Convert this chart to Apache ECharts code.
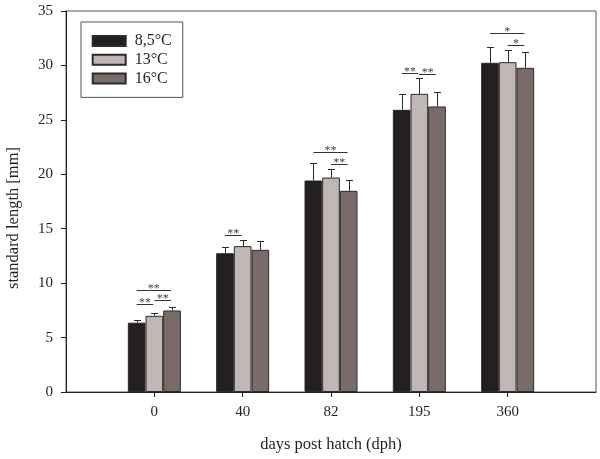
<!DOCTYPE html>
<html><head><meta charset="utf-8">
<script src="https://cdn.jsdelivr.net/npm/echarts@6/dist/echarts.min.js"></script>
<style>html,body{margin:0;padding:0;background:#fff}#c{width:600px;height:459px}</style>
</head><body><div id="c"></div>
<script>
// ---- data ----
const categories = ['0', '40', '82', '195', '360'];
const seriesNames = ['8,5°C', '13°C', '16°C'];
const mean85 = [6.37, 12.75, 19.43, 25.92, 30.24];
const mean13 = [7.0, 13.4, 19.7, 27.39, 30.3];
const mean16 = [7.49, 13.06, 18.48, 26.23, 29.78];
const sd85 = [0.25, 0.6, 1.65, 1.48, 1.43];
const sd13 = [0.24, 0.55, 0.74, 1.44, 1.1];
const sd16 = [0.35, 0.77, 0.98, 1.31, 1.47];
const yTicks = [0, 5, 10, 15, 20, 25, 30, 35];
// significance brackets: group, from bar, to bar, height, label
const sigGroup = [0, 0, 0, 1, 2, 2, 3, 3, 4, 4];
const sigFrom  = [0, 0, 1, 0, 0, 1, 0, 1, 0, 1];
const sigTo    = [2, 1, 2, 1, 2, 2, 1, 2, 2, 2];
const sigY     = [9.39, 8.04, 8.47, 14.38, 22.09, 20.99, 29.32, 29.17, 33.0, 31.9];
const sigLabel = ['**', '**', '**', '**', '**', '**', '**', '**', '*', '*'];

const colors = ['#231f20', '#c0b6b3', '#7a6b68'];
const FONT = "'Liberation Serif', 'DejaVu Serif', serif";
const TXT = '#231f20';

const means = [mean85, mean13, mean16];
const sds = [sd85, sd13, sd16];
const axisCats = [''].concat(categories, ['']);

const barSeries = seriesNames.map((n, s) => ({
  name: n, type: 'bar', barWidth: '20%', barGap: '0%',
  itemStyle: { color: colors[s], borderColor: '#2b2b2b', borderWidth: 1 },
  data: [null].concat(means[s], [null]),
  z: 2
}));

const errData = [];
for (let s = 0; s < 3; s++) for (let g = 0; g < categories.length; g++)
  errData.push([g + 1, s, means[s][g], sds[s][g]]);

const sigData = sigGroup.map((g, i) => [g + 1, sigFrom[i], sigTo[i], sigY[i]]);

const chart = echarts.init(document.getElementById('c'), null, { renderer: 'canvas' });
chart.setOption({
  animation: false,
  backgroundColor: '#fff',
  textStyle: { fontFamily: FONT, color: TXT },
  grid: { left: 66, right: 4, top: 11, bottom: 67, show: true, borderColor: '#555', borderWidth: 1, backgroundColor: 'transparent' },
  legend: {
    data: seriesNames, orient: 'vertical', left: 81, top: 22,
    padding: [11, 11, 11, 10.7], itemGap: 2.7, itemWidth: 33, itemHeight: 10,
    icon: 'rect', borderColor: '#555', borderWidth: 1, backgroundColor: '#fff',
    textStyle: { fontFamily: FONT, fontSize: 16, color: TXT, lineHeight: 16, padding: [0, 0, 0, 4] }
  },
  xAxis: {
    type: 'category', data: axisCats, boundaryGap: false,
    name: 'days post hatch (dph)', nameLocation: 'middle', nameGap: 44,
    nameTextStyle: { fontFamily: FONT, fontSize: 16.5, color: TXT },
    axisLine: { lineStyle: { color: '#222', width: 1 } },
    axisTick: { show: true, inside: false, length: 5, lineStyle: { color: '#222' }, interval: (i) => i > 0 && i < axisCats.length - 1 },
    axisLabel: { fontFamily: FONT, fontSize: 15, color: TXT, margin: 13, interval: 0 },
    splitLine: { show: false }
  },
  yAxis: {
    type: 'value', min: yTicks[0], max: yTicks[yTicks.length - 1], interval: 5,
    axisLine: { show: true, lineStyle: { color: '#222', width: 1 } },
    axisTick: { show: true, inside: false, length: 5, lineStyle: { color: '#222' } },
    axisLabel: { fontFamily: FONT, fontSize: 15, color: TXT, margin: 13 },
    splitLine: { show: false }
  },
  graphic: [{
    type: 'text', x: 14, y: 218, rotation: Math.PI / 2,
    style: { text: 'standard length [mm]', fontFamily: FONT, fontSize: 16.5, fill: TXT, align: 'center', verticalAlign: 'middle' }
  }],
  series: barSeries.concat([
    {
      type: 'custom', name: 'err', z: 3, silent: true,
      encode: { x: 0, y: 2 },
      data: errData,
      renderItem(params, api) {
        const cat = api.value(0), s = api.value(1), m = api.value(2), sd = api.value(3);
        const c = api.coord([cat, m]);
        const t = api.coord([cat, m + sd]);
        const bw = api.size([1, 0])[0] * 0.2;
        const x = Math.round(c[0] + (s - 1) * bw) + 0.5;
        const ty = Math.round(t[1]) + 0.5;
        return { type: 'group', children: [
          { type: 'line', shape: { x1: x, y1: c[1], x2: x, y2: ty }, style: { stroke: '#2b2b2b', lineWidth: 1 } },
          { type: 'line', shape: { x1: x - 3.5, y1: ty, x2: x + 3.5, y2: ty }, style: { stroke: '#2b2b2b', lineWidth: 1 } }
        ]};
      }
    },
    {
      type: 'custom', name: 'sig', z: 3, silent: true,
      encode: { x: 0, y: 3 },
      data: sigData,
      renderItem(params, api) {
        const cat = api.value(0), f = api.value(1), to = api.value(2), y = api.value(3);
        const c = api.coord([cat, y]);
        const bw = api.size([1, 0])[0] * 0.2;
        const x1 = c[0] + (f - 1) * bw, x2 = c[0] + (to - 1) * bw - 1;
        const yy = Math.round(c[1]) + 0.5;
        return { type: 'group', children: [
          { type: 'line', shape: { x1: x1, y1: yy, x2: x2, y2: yy }, style: { stroke: '#333', lineWidth: 1 } },
          { type: 'text', x: (x1 + x2) / 2, y: yy - 2, style: { text: sigLabel[params.dataIndex], fontFamily: FONT, fontSize: 12, fill: '#444', align: 'center', verticalAlign: 'middle' } }
        ]};
      }
    }
  ])
});
</script></body></html>
